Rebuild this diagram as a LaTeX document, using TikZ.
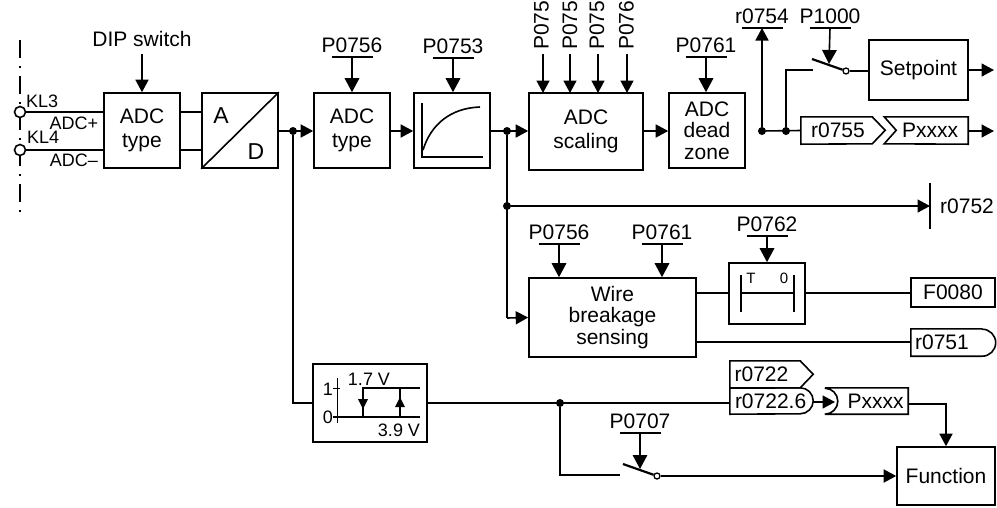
\documentclass[tikz,border=0pt]{standalone}
\usepackage{fontspec}
\setmainfont{Liberation Sans}
\usetikzlibrary{arrows.meta}
\tikzset{
    >={Triangle[length=12.5pt,width=13pt]},
    wire/.style={line width=1.6pt},
    parwire/.style={line width=1.6pt, -{Triangle[length=14pt,width=14.5pt]}},
    blockbox/.style={draw, line width=1.6pt, inner sep=0pt, align=center, font=\fontsize{21}{21.5}\selectfont},
    parlabel/.style={anchor=south, inner sep=0pt, inner ysep=4.5pt, font=\fontsize{21}{21}\selectfont},
    rotlabel/.style={rotate=90, anchor=west, inner sep=0pt, font=\fontsize{21}{21}\selectfont},
    tagtext/.style={inner sep=0pt, font=\fontsize{21}{21}\selectfont},
    smalltext/.style={inner sep=0pt, font=\fontsize{18}{18}\selectfont},
    junction/.style={circle, fill, inner sep=0pt, minimum size=8pt},
    terminal/.style={circle, draw, fill=white, line width=1.6pt, inner sep=0pt, minimum size=11pt},
    contact/.style={circle, draw, fill=white, line width=1.3pt, inner sep=0pt, minimum size=6pt}
}
\begin{document}
\begin{tikzpicture}[x=1pt, y=-1pt]
    \useasboundingbox (0,0) rectangle (997,507);

    % BORNES D'ENTRADA
    \draw[wire, dash pattern=on 18pt off 8pt on 2pt off 8pt] (20,40) -- (20,214);
    \node (kl3) [terminal] at (20,112) {};
    \node (kl4) [terminal] at (20,150) {};
    \node (kl3txt) [smalltext, anchor=west] at (26,101) {KL3};
    \node (kl4txt) [smalltext, anchor=west] at (27,137) {KL4};
    \node (adcp) [smalltext] at (74,123) {ADC+};
    \node (adcm) [smalltext] at (74,160) {ADC--};

    % BLOCS DE LA FILA SUPERIOR
    \node (adctype) [blockbox, minimum width=76pt, minimum height=75pt] at (142,130.5) {ADC\\[3pt]type};
    \node (atod) [blockbox, minimum width=76pt, minimum height=75pt] at (240,130.5) {};
    \node (adctypeb) [blockbox, minimum width=76pt, minimum height=75pt] at (352,130.5) {ADC\\[3pt]type};
    \node (filter) [blockbox, minimum width=76pt, minimum height=75pt] at (452,130.5) {};
    \node (scaling) [blockbox, minimum width=114pt, minimum height=77pt] at (586,131.5) {ADC\\[2pt]scaling};
    \node (deadzone) [blockbox, minimum width=76pt, minimum height=75pt] at (707,130.5) {ADC\\dead\\zone};
    \node (setpoint) [blockbox, minimum width=99pt, minimum height=60pt] at (918.5,70) {Setpoint};

    % A/D I CORBA DEL FILTRE
    \draw[wire] (atod.south west) -- (atod.north east);
    \node (atxt) [inner sep=0pt, font=\fontsize{23}{23}\selectfont] at (221,116) {A};
    \node (dtxt) [inner sep=0pt, font=\fontsize{23}{23}\selectfont] at (256,152) {D};
    \draw[wire] (422,103) -- (422,157) -- (483,157);
    \draw[wire] (423,150) .. controls (431,124) and (451,108) .. (480,107);

    % ENTRADES SUPERIORS
    \node (dip) [inner sep=0pt, font=\fontsize{21}{21}\selectfont] at (142,39) {DIP switch};
    \node (p756a) [parlabel] at (352,57) {P0756};
    \node (p753) [parlabel] at (453,58) {P0753};
    \node (p761a) [parlabel] at (706,57) {P0761};
    \node (r754) [parlabel] at (762,28) {r0754};
    \node (p1000) [parlabel] at (830,28) {P1000};
    \node (p757) [rotlabel] at (541.5,50) {P0757};
    \node (p758) [rotlabel] at (570,50) {P0758};
    \node (p759) [rotlabel] at (597,50) {P0759};
    \node (p760) [rotlabel] at (626.5,50) {P0760};
    \draw[wire, ->] (142,54) -- (adctype.north);
    \draw[parwire] (p756a.south) -- (p756a.south |- adctypeb.north);
    \draw[parwire] (p753.south) -- (p753.south |- filter.north);
    \draw[parwire] (p761a.south) -- (p761a.south |- deadzone.north);
    \foreach \x in {543,570,598,627} {
        \draw[wire, ->] (\x,54) -- (\x,93);
    }

    % CAMI PRINCIPAL
    \draw[wire] (kl3) -- (kl3 -| adctype.west);
    \draw[wire] (kl4) -- (kl4 -| adctype.west);
    \draw[wire] (adctype.east |- kl3) -- (atod.west |- kl3);
    \draw[wire] (adctype.east |- kl4) -- (atod.west |- kl4);
    \node (ja) [junction] at (293,131) {};
    \node (jb) [junction] at (507,131) {};
    \node (jc) [junction] at (762,131) {};
    \node (jd) [junction] at (786,131) {};
    \node (je) [junction] at (507,206) {};
    \node (jf) [junction] at (560,403) {};
    \draw[wire, ->] (atod.east |- ja) -- (adctypeb.west |- ja);
    \draw[wire, ->] (adctypeb.east |- ja) -- (filter.west |- ja);
    \draw[wire, ->] (filter.east |- jb) -- (scaling.west |- jb);
    \draw[wire, ->] (scaling.east |- jb) -- (deadzone.west |- jb);
    \draw[wire, ->] (jc) -- (r754.south);

    % INTERRUPTOR DE CONSIGNA
    \coordinate (swa) at (813,70);
    \node (swb) [contact] at (846,71) {};
    \draw[wire] (jd) -- (786,70) -- (swa);
    \draw[line width=2.2pt] (812,59) -- (swb);
    \draw[wire] (swb) -- (setpoint.west |- swb);
    \draw[parwire] (p1000.south) -- (829,64);
    \coordinate (seta) at (994,70);
    \draw[wire, ->] (setpoint.east) -- (seta);

    % ETIQUETES r0755 I Pxxxx
    \node (r755) [tagtext, minimum width=71pt, minimum height=27pt] at (836.5,130.5) {\hspace*{3pt}r0755};
    \node (pxa) [tagtext, minimum width=72pt, minimum height=27pt] at (932,130.5) {\hspace*{-4pt}Pxxxx};
    \draw[wire] (r755.north west) -- (r755.north east) -- ++(13,13.5) -- ++(-13,13.5) -- (r755.south west) -- cycle;
    \draw[wire] (pxa.north east) -- ++(-84,0) -- ++(12,13.5) -- ++(-12,13.5) -- (pxa.south east) -- cycle;
    \coordinate (pxaout) at (994,131);
    \draw[wire] (jc) -- (r755.west);
    \draw[wire, ->] (pxa.east |- pxaout) -- (pxaout);

    % BRANCA r0752
    \coordinate (barm) at (930,206);
    \node (r752) [tagtext, anchor=west] at (940,206) {r0752};
    \draw[wire] (jb) -- (507,318);
    \draw[wire, ->] (je) -- (barm);
    \draw[wire] (930,183) -- (930,229);

    % DETECCIO DE RUPTURA
    \node (wire) [blockbox, minimum width=167pt, minimum height=79pt] at (612.5,317.5) {Wire\\breakage\\sensing};
    \node (timer) [blockbox, minimum width=76pt, minimum height=61pt] at (767,293.5) {};
    \node (f80) [blockbox, minimum width=84pt, minimum height=29pt] at (953,292.5) {F0080};
    \node (r751) [tagtext, minimum width=71pt, minimum height=27pt] at (946.5,342.5) {\hspace*{-9pt}r0751};
    \draw[wire] (r751.north east) -- (r751.north west) -- (r751.south west) -- (r751.south east)
        arc[start angle=-90, end angle=90, radius=13.5pt];
    \node (p756b) [parlabel] at (559,244) {P0756};
    \node (p761b) [parlabel] at (662,244) {P0761};
    \node (p762) [parlabel] at (767,236) {P0762};
    \draw[parwire] (p756b.south) -- (p756b.south |- wire.north);
    \draw[parwire] (p761b.south) -- (p761b.south |- wire.north);
    \draw[parwire] (p762.south) -- (timer.north);
    \draw[wire, ->] (507,318) -- (wire.west);
    \draw[wire] (wire.east |- 0,293) -- (timer.west |- 0,293);
    \draw[wire] (timer.east |- 0,293) -- (f80.west |- 0,293);
    \draw[wire] (wire.east |- 0,342) -- (r751.west |- 0,342);
    \draw[wire] (741,275) -- (741,312);
    \draw[wire] (794,275) -- (794,312);
    \draw[wire] (741,293) -- (794,293);
    \node (ttxt) [inner sep=0pt, font=\fontsize{15}{15}\selectfont] at (751,278) {T};
    \node (ztxt) [inner sep=0pt, font=\fontsize{15}{15}\selectfont] at (784,278) {0};

    % HISTERESI
    \node (hyst) [blockbox, minimum width=114pt, minimum height=78pt] at (370,403) {};
    \draw[wire] (ja) -- (ja |- hyst) -- (hyst.west);
    \draw[line width=1pt] (337,378) -- (337,423);
    \draw[line width=1pt] (333,388) -- (340,388);
    \draw[wire] (333,417) -- (420,417);
    \draw[wire] (420,388) -- (363,388) -- (363,417);
    \draw[wire] (400,388) -- (400,417);
    \fill (363,409) -- (358,399) -- (368,399) -- cycle;
    \fill (400,397) -- (395,407) -- (405,407) -- cycle;
    \node (one) [smalltext] at (328,389) {1};
    \node (zero) [smalltext] at (328,417) {0};
    \node (v17) [smalltext] at (369,379) {1.7 V};
    \node (v39) [smalltext] at (399,430) {3.9 V};

    % SORTIDES INFERIORS
    \node (r722) [tagtext, minimum width=70pt, minimum height=27pt] at (765,374.5) {\hspace*{-7pt}r0722};
    \draw[wire] (r722.north west) -- (r722.north east) -- ++(13,13.5) -- ++(-13,13.5) -- (r722.south west) -- cycle;
    \node (r7226) [tagtext, minimum height=26pt] at (765,401) {\makebox[70pt][l]{\hspace*{5pt}r0722.6}};
    \draw[wire] (r7226.north west) -- (r7226.north east) arc[start angle=90, end angle=-90, radius=13pt] -- (r7226.south west) -- cycle;
    \node (pxb) [tagtext, minimum width=83pt, minimum height=26pt] at (866.5,401) {\hspace*{18pt}Pxxxx};
    \draw[wire] (pxb.north west) -- (pxb.north east) -- (pxb.south east) -- (pxb.south west)
        arc[start angle=-90, end angle=90, radius=13pt];
    \node (func) [blockbox, minimum width=98pt, minimum height=58pt] at (946,476) {Function};
    \draw[wire] (hyst.east) -- (r7226.west |- hyst.east);
    \coordinate (pxbin) at (835,402);
    \draw[wire, ->] (813,402) -- (pxbin);
    \draw[wire, ->] (pxb.east |- 0,404) -- (946,404) -- (func.north);

    % INTERRUPTOR P0707
    \node (p707) [parlabel] at (640,433) {P0707};
    \coordinate (swc) at (620,475);
    \node (swd) [contact] at (657,476) {};
    \draw[wire] (jf) -- (560,475) -- (swc);
    \draw[line width=2.2pt] (623,464) -- (swd);
    \draw[parwire] (p707.south) -- (640,469);
    \draw[wire, ->] (swd) -- (func.west |- swd);

    % BARRES DELS PARAMETRES
    \foreach \n in {p756a,p753,p761a,r754,p1000,p756b,p761b,p762,p707} {
        \draw[line width=1.2pt] ([xshift=-20.5pt]\n.south) -- ([xshift=20.5pt]\n.south);
    }
\end{tikzpicture}
\end{document}
